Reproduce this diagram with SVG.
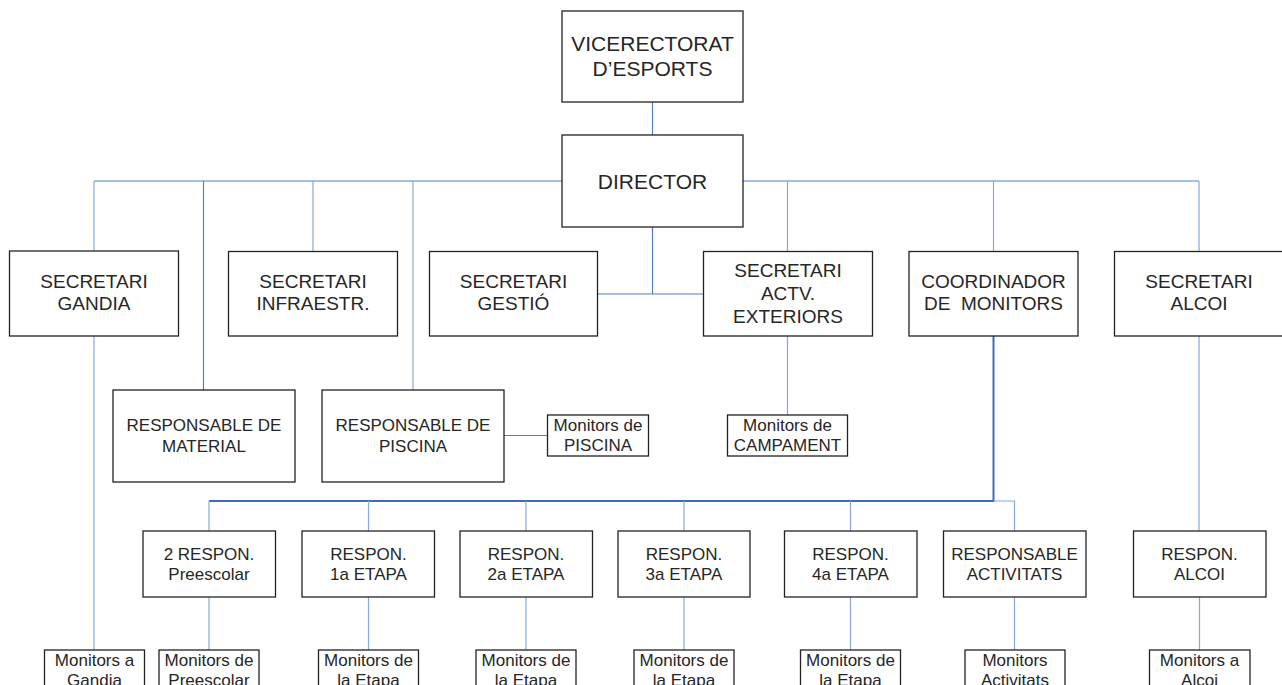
<svg xmlns="http://www.w3.org/2000/svg" width="1282" height="685" viewBox="0 0 1282 685">
<style>
.b{fill:#fff;stroke:#222;stroke-width:1.3}
.t{font-family:"Liberation Sans",Arial,sans-serif;fill:#262626;text-anchor:middle;white-space:pre}
.f21{font-size:21px}.f19{font-size:19px}.f17{font-size:17px}
.c{fill:none;stroke:#4f7fc4;stroke-width:1.2}
.l{fill:none;stroke:#86a8dc;stroke-width:1.2}
.d{fill:none;stroke:#3d6db8;stroke-width:2}
</style>
<rect width="1282" height="685" fill="#fff"/>
<g id="connectors">
<path class="c" d="M652.5 102V135"/>
<path class="c" d="M94 181H562M743 181H1199"/>
<path class="l" d="M94 181V251M94 336V650"/>
<path class="c" d="M203.5 181V390"/>
<path class="l" d="M313 181V252"/>
<path class="l" d="M413 181V390"/>
<path class="c" d="M504 435.5H547"/>
<path class="c" d="M652.5 227V294M598 294H703"/>
<path class="l" d="M787.5 181V252M787.5 336V415"/>
<path class="l" d="M993.5 181V252"/>
<path class="l" d="M1199 181V252M1199 336V531"/>
<path class="d" d="M993.5 336V501H209"/>
<path class="l" d="M993.5 501H1014.5V531"/>
<path class="l" d="M209 501V531M368.5 501V531M526 501V531M684 501V531M850.5 501V531"/>
<path class="l" d="M209 597V650M368.5 597V650M526 597V650M684 597V650M850.5 597V650M1014.5 597V650M1199.5 597V650"/>
</g>
<g id="vicerectorat"><rect class="b" x="562" y="11" width="181" height="91"/><text class="t f21" x="652.5" y="50.5">VICERECTORAT</text><text class="t f21" x="652.5" y="75.5">D’ESPORTS</text></g>
<g id="director"><rect class="b" x="562" y="135" width="181" height="92"/><text class="t f21" x="652.5" y="189">DIRECTOR</text></g>
<g id="sec-gandia"><rect class="b" x="9.5" y="251" width="169" height="85"/><text class="t f19" x="94" y="288">SECRETARI</text><text class="t f19" x="94" y="310">GANDIA</text></g>
<g id="sec-infra"><rect class="b" x="228.5" y="251.5" width="169" height="84.5"/><text class="t f19" x="313" y="288">SECRETARI</text><text class="t f19" x="313" y="310">INFRAESTR.</text></g>
<g id="sec-gestio"><rect class="b" x="429.5" y="251.5" width="168" height="84.5"/><text class="t f19" x="513.5" y="288">SECRETARI</text><text class="t f19" x="513.5" y="310">GESTIÓ</text></g>
<g id="sec-actv"><rect class="b" x="703.5" y="251.5" width="169" height="84.5"/><text class="t f19" x="788" y="276.5">SECRETARI</text><text class="t f19" x="788" y="299.5">ACTV.</text><text class="t f19" x="788" y="322.5">EXTERIORS</text></g>
<g id="coordinador"><rect class="b" x="909" y="251.5" width="169" height="84.5"/><text class="t f19" x="993.5" y="288">COORDINADOR</text><text class="t f19" x="993.5" y="310">DE  MONITORS</text></g>
<g id="sec-alcoi"><rect class="b" x="1114.5" y="251.5" width="170" height="84.5"/><text class="t f19" x="1199" y="288">SECRETARI</text><text class="t f19" x="1199" y="310">ALCOI</text></g>
<g id="resp-material"><rect class="b" x="113" y="390" width="182" height="92"/><text class="t f17" x="204" y="431">RESPONSABLE DE</text><text class="t f17" x="204" y="452">MATERIAL</text></g>
<g id="resp-piscina"><rect class="b" x="322" y="390" width="182" height="92"/><text class="t f17" x="413" y="431">RESPONSABLE DE</text><text class="t f17" x="413" y="452">PISCINA</text></g>
<g id="mon-piscina"><rect class="b" x="547.5" y="415" width="101" height="41"/><text class="t f17" x="598" y="431">Monitors de</text><text class="t f17" x="598" y="451">PISCINA</text></g>
<g id="mon-campament"><rect class="b" x="727.5" y="415" width="120" height="41"/><text class="t f17" x="787.5" y="431">Monitors de</text><text class="t f17" x="787.5" y="451">CAMPAMENT</text></g>
<g id="resp-preescolar"><rect class="b" x="143" y="531" width="132.5" height="66"/><text class="t f17" x="209" y="559.5">2 RESPON.</text><text class="t f17" x="209" y="579.5">Preescolar</text></g>
<g id="resp-1a"><rect class="b" x="302" y="531" width="132.5" height="66"/><text class="t f17" x="368.5" y="559.5">RESPON.</text><text class="t f17" x="368.5" y="579.5">1a ETAPA</text></g>
<g id="resp-2a"><rect class="b" x="460" y="531" width="132.5" height="66"/><text class="t f17" x="526" y="559.5">RESPON.</text><text class="t f17" x="526" y="579.5">2a ETAPA</text></g>
<g id="resp-3a"><rect class="b" x="618" y="531" width="132" height="66"/><text class="t f17" x="684" y="559.5">RESPON.</text><text class="t f17" x="684" y="579.5">3a ETAPA</text></g>
<g id="resp-4a"><rect class="b" x="784.5" y="531" width="132.5" height="66"/><text class="t f17" x="850.5" y="559.5">RESPON.</text><text class="t f17" x="850.5" y="579.5">4a ETAPA</text></g>
<g id="resp-activitats"><rect class="b" x="943.5" y="531" width="142.5" height="66"/><text class="t f17" x="1014.5" y="559.5">RESPONSABLE</text><text class="t f17" x="1014.5" y="579.5">ACTIVITATS</text></g>
<g id="resp-alcoi"><rect class="b" x="1133.5" y="531" width="132.5" height="66"/><text class="t f17" x="1199.5" y="559.5">RESPON.</text><text class="t f17" x="1199.5" y="579.5">ALCOI</text></g>
<g id="mon-gandia"><rect class="b" x="44.5" y="650" width="100" height="45"/><text class="t f17" x="94.5" y="666">Monitors a</text><text class="t f17" x="94.5" y="686">Gandia</text></g>
<g id="mon-preescolar"><rect class="b" x="159" y="650" width="100" height="45"/><text class="t f17" x="209" y="666">Monitors de</text><text class="t f17" x="209" y="686">Preescolar</text></g>
<g id="mon-1a"><rect class="b" x="318.5" y="650" width="100" height="45"/><text class="t f17" x="368.5" y="666">Monitors de</text><text class="t f17" x="368.5" y="686">la Etapa</text></g>
<g id="mon-2a"><rect class="b" x="476" y="650" width="100" height="45"/><text class="t f17" x="526" y="666">Monitors de</text><text class="t f17" x="526" y="686">la Etapa</text></g>
<g id="mon-3a"><rect class="b" x="634" y="650" width="100" height="45"/><text class="t f17" x="684" y="666">Monitors de</text><text class="t f17" x="684" y="686">la Etapa</text></g>
<g id="mon-4a"><rect class="b" x="800.5" y="650" width="100" height="45"/><text class="t f17" x="850.5" y="666">Monitors de</text><text class="t f17" x="850.5" y="686">la Etapa</text></g>
<g id="mon-activitats"><rect class="b" x="965" y="650" width="100" height="45"/><text class="t f17" x="1015" y="666">Monitors</text><text class="t f17" x="1015" y="686">Activitats</text></g>
<g id="mon-alcoi"><rect class="b" x="1149.5" y="650" width="100.5" height="45"/><text class="t f17" x="1199.5" y="666">Monitors a</text><text class="t f17" x="1199.5" y="686">Alcoi</text></g>
</svg>
